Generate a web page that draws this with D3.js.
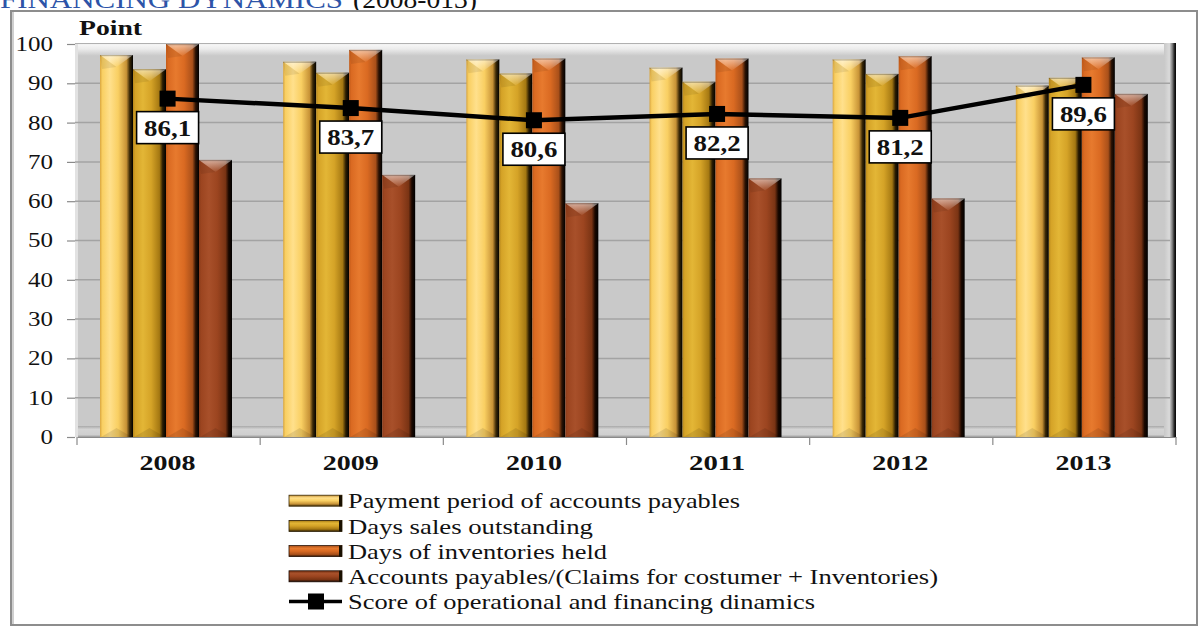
<!DOCTYPE html>
<html><head><meta charset="utf-8">
<script src="https://cdn.jsdelivr.net/npm/d3@7"></script>
<style>html,body{margin:0;padding:0;background:#fff;overflow:hidden}svg{display:block}
svg text{font-family:"Liberation Serif","Times New Roman",Tinos,Times,serif}</style>
</head><body>
<svg id="chart" width="1202" height="628"></svg>
<script>
// ---------- data ----------
const years = ["2008", "2009", "2010", "2011", "2012", "2013"];
const seriesNames = [
  "Payment period of accounts payables",
  "Days sales outstanding",
  "Days of inventories held",
  "Accounts payables/(Claims for costumer + Inventories)"
];
const paymentPeriod   = [97.2, 95.5, 96.1, 94.0, 96.1, 89.4];
const daysSales       = [93.6, 92.7, 92.5, 90.4, 92.4, 91.4];
const daysInventories = [100.0, 98.5, 96.3, 96.3, 96.9, 96.6];
const payablesRatio   = [70.5, 66.7, 59.5, 65.8, 60.7, 87.3];
const scoreName = "Score of operational and financing dinamics";
const score = [86.1, 83.7, 80.6, 82.2, 81.2, 89.6];
const scoreLabels = ["86,1", "83,7", "80,6", "82,2", "81,2", "89,6"];
const yTicks = [0, 10, 20, 30, 40, 50, 60, 70, 80, 90, 100];
const yAxisTitle = "Point";
const titleMain = "FINANCING DYNAMICS";
const titleYears = "(2008-013)";

const seriesValues = [paymentPeriod, daysSales, daysInventories, payablesRatio];
const palette = [
  {dk: "#d9a640", base: "#f9cf62", hi: "#ffe08c", sh: "#c79236", edge: "#3a2806"},
  {dk: "#b8881c", base: "#d5a327", hi: "#e3b636", sh: "#a57812", edge: "#2a1c02"},
  {dk: "#c25a18", base: "#da6a22", hi: "#e77a2e", sh: "#a9501a", edge: "#2a1204"},
  {dk: "#8a3c1a", base: "#9c4520", hi: "#a8502a", sh: "#7a3414", edge: "#1a0800"}
];

const svg = d3.select("#chart");
const defs = svg.append("defs");

// ---------- scales ----------
const x0 = d3.scaleBand().domain(years).range([77, 1176]).paddingInner(0).paddingOuter(0);
const x1 = d3.scaleBand().domain(d3.range(seriesValues.length)).range([23, 155]);
const y = d3.scaleLinear().domain([0, 100]).range([437, 44]);

function fitText(sel, w) { sel.attr("textLength", w).attr("lengthAdjust", "spacingAndGlyphs"); }

// ---------- title (cut at top, as in the reference) ----------
svg.append("text").attr("x", 0).attr("y", 8).attr("font-size", 26)
  .attr("fill", "#2d54a8").text(titleMain).call(fitText, 343);
svg.append("text").attr("x", 353).attr("y", 8).attr("font-size", 26)
  .attr("fill", "#111").text(titleYears).call(fitText, 124);

// ---------- outer frame ----------
svg.append("rect").attr("x", 11).attr("y", 11).attr("width", 1186).attr("height", 614)
  .attr("fill", "#fff").attr("stroke", "#8d8d8d").attr("stroke-width", 2);
svg.append("line").attr("x1", 13).attr("x2", 13).attr("y1", 12).attr("y2", 624)
  .attr("stroke", "#cfcfcf").attr("stroke-width", 2);

// ---------- gradients ----------
palette.forEach((p, i) => {
  const g = defs.append("linearGradient").attr("id", "bar" + i).attr("x1", 0).attr("x2", 1).attr("y1", 0).attr("y2", 0);
  [[0, p.dk], [0.07, p.base], [0.3, p.hi], [0.55, p.base], [0.8, p.sh], [0.9, p.edge], [1, "#000"]]
    .forEach(s => g.append("stop").attr("offset", s[0]).attr("stop-color", s[1]));
  const v = defs.append("linearGradient").attr("id", "sw" + i).attr("x1", 0).attr("x2", 0).attr("y1", 0).attr("y2", 1);
  [[0, p.sh], [0.25, p.hi], [0.5, p.base], [0.8, p.sh], [1, p.edge]]
    .forEach(s => v.append("stop").attr("offset", s[0]).attr("stop-color", s[1]));
});
const capG = defs.append("linearGradient").attr("id", "cap").attr("x1", 0).attr("x2", 0).attr("y1", 0).attr("y2", 1);
capG.append("stop").attr("offset", 0).attr("stop-color", "#fff").attr("stop-opacity", 0.55);
capG.append("stop").attr("offset", 1).attr("stop-color", "#fff").attr("stop-opacity", 0.05);
const topBevel = defs.append("linearGradient").attr("id", "topBevel").attr("x1", 0).attr("x2", 0).attr("y1", 0).attr("y2", 1);
[[0, "#8f8f8f"], [0.12, "#f6f6f6"], [0.45, "#ececec"], [1, "#c8c8c8"]]
  .forEach(s => topBevel.append("stop").attr("offset", s[0]).attr("stop-color", s[1]));
const rightBevel = defs.append("linearGradient").attr("id", "rightBevel").attr("x1", 0).attr("x2", 1).attr("y1", 0).attr("y2", 0);
[[0, "#c8c8c8"], [0.45, "#dadada"], [0.7, "#7a7a7a"], [0.85, "#2a2a2a"], [1, "#000"]]
  .forEach(s => rightBevel.append("stop").attr("offset", s[0]).attr("stop-color", s[1]));
const floorG = defs.append("linearGradient").attr("id", "floorG").attr("x1", 0).attr("x2", 0).attr("y1", 0).attr("y2", 1);
[[0, "#a9a9a9"], [0.3, "#d4d4d4"], [0.8, "#cfcfcf"], [1, "#9a9a9a"]]
  .forEach(s => floorG.append("stop").attr("offset", s[0]).attr("stop-color", s[1]));

// ---------- plot wall ----------
const [xl, xr] = x0.range();
const wall = svg.append("g");
wall.append("rect").attr("x", xl - 2).attr("y", y(100)).attr("width", xr - xl + 2).attr("height", y(0) - y(100)).attr("fill", "#c9c9c9");
wall.append("rect").attr("x", xl - 2).attr("y", y(100) - 1).attr("width", xr - xl - 6).attr("height", 13).attr("fill", "url(#topBevel)");
wall.append("rect").attr("x", xl - 2).attr("y", y(0) - 11).attr("width", xr - xl - 6).attr("height", 11).attr("fill", "url(#floorG)");
wall.append("rect").attr("x", xl - 2).attr("y", y(100)).attr("width", 3).attr("height", y(0) - y(100)).attr("fill", "#e2e2e2");
wall.append("rect").attr("x", xr - 12).attr("y", y(100) - 1).attr("width", 12).attr("height", y(0) - y(100) + 1).attr("fill", "url(#rightBevel)");

// gridlines
wall.selectAll("line.grid").data(yTicks.filter(d => d > 0 && d < 100)).join("line")
  .attr("class", "grid").attr("x1", xl - 2).attr("x2", xr - 6)
  .attr("y1", d => y(d)).attr("y2", d => y(d)).attr("stroke", "#a3a3a3").attr("stroke-width", 1.5);

// ---------- axes ----------
const yAxis = svg.append("g").attr("transform", `translate(${xl - 2},0)`)
  .call(d3.axisLeft(y).tickValues(yTicks).tickSize(8).tickPadding(14));
yAxis.attr("font-family", null);
yAxis.select(".domain").remove();
yAxis.selectAll(".tick line").attr("stroke", "#8a8a8a").attr("stroke-width", 1.2);
yAxis.selectAll(".tick text").attr("font-size", 20).attr("fill", "#111")
  .each(function (d) { d3.select(this).call(fitText, String(d).length * 12.5); });

const xAxis = svg.append("g").attr("transform", `translate(0,${y(0)})`)
  .call(d3.axisBottom(x0).tickSize(0).tickPadding(0));
xAxis.attr("font-family", null);
xAxis.select(".domain").attr("stroke", "#8a8a8a").attr("stroke-width", 1.2);
xAxis.selectAll(".tick text").attr("font-size", 20).attr("font-weight", "bold")
  .attr("fill", "#111").attr("y", 33).attr("dy", 0).attr("dx", -1).call(fitText, 56);
svg.append("g").selectAll("line").data(years.map(d => x0(d)).concat([xr])).join("line")
  .attr("x1", d => d).attr("x2", d => d).attr("y1", y(0)).attr("y2", y(0) + 8)
  .attr("stroke", "#8a8a8a").attr("stroke-width", 1.2);

svg.append("text").attr("x", 79).attr("y", 35).attr("font-size", 20)
  .attr("font-weight", "bold").attr("fill", "#111").text(yAxisTitle).call(fitText, 63);

// ---------- bars ----------
const bars = svg.append("g");
years.forEach((yr, j) => {
  seriesValues.forEach((vals, i) => {
    const bx = x0(yr) + x1(i), bw = x1.bandwidth();
    const top = y(vals[j]), bot = y(0);
    const g = bars.append("g");
    g.append("rect").attr("x", bx).attr("y", top).attr("width", bw).attr("height", bot - top)
      .attr("fill", `url(#bar${i})`);
    g.append("path").attr("d", `M${bx},${top}L${bx + bw},${top}L${bx + bw / 2},${top + 12}Z`)
      .attr("fill", "url(#cap)");
    g.append("path").attr("d", `M${bx},${top}L${bx + bw / 2},${top + 12}L${bx + 2},${top + 14}Z`)
      .attr("fill", "#000").attr("opacity", 0.08);
    g.append("path").attr("d", `M${bx + 1},${bot}L${bx + bw - 1},${bot}L${bx + bw / 2},${bot - 9}Z`)
      .attr("fill", "#000").attr("opacity", 0.1);
    g.append("rect").attr("x", bx).attr("y", top).attr("width", bw).attr("height", 1.2)
      .attr("fill", "#000").attr("opacity", 0.25);
  });
});

// ---------- score line ----------
const cx = d => x0(d) + x0.bandwidth() / 2 - 1;
const line = d3.line().x((d, j) => cx(years[j])).y(d => y(d));
svg.append("path").datum(score).attr("d", line).attr("fill", "none")
  .attr("stroke", "#000").attr("stroke-width", 4.5).attr("stroke-linejoin", "round");
svg.append("g").selectAll("rect").data(score).join("rect")
  .attr("x", (d, j) => cx(years[j]) - 8).attr("y", d => y(d) - 8)
  .attr("width", 16).attr("height", 16).attr("fill", "#000");

const lbl = svg.append("g").selectAll("g").data(score).join("g")
  .attr("transform", (d, j) => `translate(${cx(years[j])},${y(d) + 13})`);
lbl.append("rect").attr("x", -31).attr("y", 0).attr("width", 62).attr("height", 32)
  .attr("fill", "#fff").attr("stroke", "#000").attr("stroke-width", 1.6);
lbl.append("text").attr("x", 0).attr("y", 24).attr("text-anchor", "middle")
  .attr("font-size", 23).attr("font-weight", "bold").attr("fill", "#111")
  .text((d, j) => scoreLabels[j]).call(fitText, 47);

// ---------- legend ----------
const legendWidths = [392, 245, 259, 590, 467];
const legendItems = seriesNames.concat([scoreName]);
const leg = svg.append("g");
legendItems.forEach((name, i) => {
  const base = 508.3 + i * 25.2;
  const cy = base - 7.6;
  if (i < 4) {
    leg.append("rect").attr("x", 289).attr("y", cy - 5.5).attr("width", 53).attr("height", 11)
      .attr("fill", `url(#sw${i})`).attr("stroke", palette[i].edge).attr("stroke-width", 0.8);
    leg.append("rect").attr("x", 339).attr("y", cy - 5.5).attr("width", 3).attr("height", 11).attr("fill", "#1a1000");
  } else {
    leg.append("line").attr("x1", 289).attr("x2", 342).attr("y1", cy).attr("y2", cy)
      .attr("stroke", "#000").attr("stroke-width", 3.5);
    leg.append("rect").attr("x", 308).attr("y", cy - 8).attr("width", 16).attr("height", 16).attr("fill", "#000");
  }
  leg.append("text").attr("x", 348).attr("y", base).attr("font-size", 21)
    .attr("fill", "#111").text(name).call(fitText, legendWidths[i]);
});
</script>
</body></html>
